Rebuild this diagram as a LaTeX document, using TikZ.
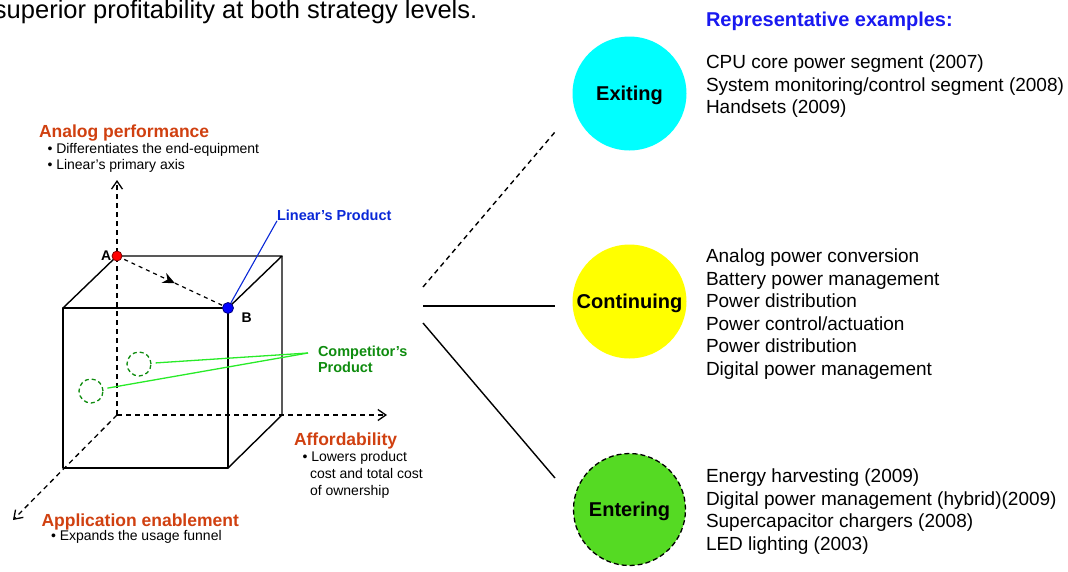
\documentclass[tikz,border=0pt]{standalone}
\usepackage{fontspec}
\setmainfont{Liberation Sans}
\usetikzlibrary{arrows.meta,decorations.markings}
\definecolor{axisred}{RGB}{208,64,16}
\definecolor{repblue}{RGB}{25,25,240}
\definecolor{linblue}{RGB}{10,40,215}
\definecolor{compgreen}{RGB}{15,140,15}
\definecolor{ligreen}{RGB}{40,235,40}
\definecolor{excyan}{RGB}{0,255,255}
\definecolor{coyellow}{RGB}{255,255,0}
\definecolor{engreen}{RGB}{85,218,35}
\begin{document}
\begin{tikzpicture}[x=1pt,y=-1pt,
  txt/.style={anchor=base west,inner sep=0pt,outer sep=0pt},
  lst/.style={txt,font=\fontsize{19}{22}\selectfont},
  small/.style={txt,font=\fontsize{14}{17}\selectfont},
  axtitle/.style={txt,font=\bfseries\fontsize{17.5}{20}\selectfont,text=axisred},
  edge/.style={line width=1.4pt,line join=round},
  hidden/.style={line width=1.3pt,dash pattern=on 5pt off 4pt},
  axarrow/.style={hidden,-{Straight Barb[length=8pt,width=11pt,line width=1.3pt]}},
  stage/.style={circle,minimum size=114pt,inner sep=0pt,font=\bfseries\fontsize{20}{24}\selectfont,text height=14.3pt,text depth=0pt},
  link/.style={line width=1.4pt},
  comp/.style={circle,draw=compgreen,line width=1.3pt,dash pattern=on 4pt off 3pt,minimum size=24pt,inner sep=0pt},
  dot/.style={circle,line width=0.8pt,inner sep=0pt},
]
\useasboundingbox (0,0) rectangle (1068,571);

% header texts
\node[txt,font=\fontsize{25.5}{30}\selectfont] (head) at (-6,18.5) {superior profitability at both strategy levels.};
\node[txt,font=\bfseries\fontsize{20}{24}\selectfont,text=repblue] (rep) at (706,26.5) {Representative examples:};

% stage circles
\node[stage,fill=excyan] (exit) at (629.5,93.5) {Exiting};
\node[stage,fill=coyellow] (cont) at (629.5,301.5) {Continuing};
\node[stage,fill=engreen,draw=black,line width=1.3pt,dash pattern=on 5pt off 3pt,minimum size=112pt] (enter) at (629.5,509.5) {Entering};

% example lists
\foreach \t [count=\i] in {CPU core power segment (2007),System monitoring/control segment (2008),Handsets (2009)}
  \node[lst] (ex\i) at (706,{68.5+22.6*(\i-1)}) {\t};
\foreach \t [count=\i] in {Analog power conversion,Battery power management,Power distribution,Power control/actuation,Power distribution,Digital power management}
  \node[lst] (co\i) at (706,{262.5+22.5*(\i-1)}) {\t};
\foreach \t [count=\i] in {Energy harvesting (2009),Digital power management (hybrid)(2009),Supercapacitor chargers (2008),LED lighting (2003)}
  \node[lst] (en\i) at (706,{482.5+22.5*(\i-1)}) {\t};

% fan of connectors
\coordinate (hub1) at (423,287);
\coordinate (hub2) at (423,306);
\coordinate (hub3) at (423,323);
\coordinate (t1) at (555,132);
\coordinate (t2) at (555,306);
\coordinate (t3) at (555,478);
\draw[link,dash pattern=on 5pt off 4pt] (hub1) -- (t1);
\draw[link] (hub2) -- (t2);
\draw[link] (hub3) -- (t3);

% cube
\coordinate (O) at (117,415);
\coordinate (A) at (117,256);
\coordinate (TBR) at (282,256);
\coordinate (FTL) at (63,308);
\coordinate (B) at (228,308);
\coordinate (FBL) at (63,468);
\coordinate (FBR) at (228,468);
\coordinate (BBR) at (282,415);
\coordinate (Ytip) at (117,180);
\coordinate (Xtip) at (387,415);
\coordinate (Ztip) at (13,520);

\draw[axarrow] (O) -- (Ytip);
\draw[axarrow] (O) -- (Xtip);
\draw[axarrow] (O) -- (Ztip);
\draw[edge] (FTL) rectangle (FBR);
\draw[edge] (FTL) -- (A) -- (TBR) -- (B);
\draw[edge] (TBR) -- (BBR) -- (FBR);

\draw[line width=1.2pt,dash pattern=on 4pt off 4pt,
  postaction={solid,decorate},
  decoration={markings,mark=at position 0.52 with {\arrow{Stealth[length=12pt,width=11pt,inset=4pt]}}}]
  (A) -- (B);

% competitor circles
\node[comp] (cp1) at (139,364) {};
\node[comp] (cp2) at (91,391) {};
\coordinate (cpt) at (308,353);
\draw[ligreen,line width=1.3pt,shorten <=4pt] (cp1) -- (cpt);
\draw[ligreen,line width=1.3pt,shorten <=4pt] (cp2) -- (cpt);
\node[txt,font=\bfseries\fontsize{14.5}{17}\selectfont,text=compgreen] (cl1) at (318,356) {Competitor’s};
\node[txt,font=\bfseries\fontsize{14.5}{17}\selectfont,text=compgreen] (cl2) at (318,372.7) {Product};

% linear's product
\node[txt,font=\bfseries\fontsize{14.5}{17}\selectfont,text=linblue] (lp) at (277,220.7) {Linear’s Product};
\node[dot,fill=blue,draw=blue!50!black,minimum size=11pt] (dotB) at (B) {};
\draw[linblue,line width=1.1pt] (dotB) -- (lp.south west);
\node[dot,fill=red,draw=red!50!black,minimum size=10pt] (dotA) at (A) {};
\node[txt,font=\bfseries\fontsize{14}{17}\selectfont] (labA) at (101,260.7) {A};
\node[txt,font=\bfseries\fontsize{14}{17}\selectfont] (labB) at (241.5,322.7) {B};

% axis labels
\node[axtitle] (apt) at (39,137.3) {Analog performance};
\node[small] (ap1) at (47.5,153.3) {• Differentiates the end-equipment};
\node[small] (ap2) at (47.5,169.8) {• Linear’s primary axis};
\node[axtitle] (af) at (294,445.7) {Affordability};
\node[small] (af1) at (302.5,461) {• Lowers product};
\node[small] (af2) at (310,478.3) {cost and total cost};
\node[small] (af3) at (310,495.6) {of ownership};
\node[axtitle] (ae) at (41.5,526) {Application enablement};
\node[small] (ae1) at (51,540) {• Expands the usage funnel};
\end{tikzpicture}
\end{document}
